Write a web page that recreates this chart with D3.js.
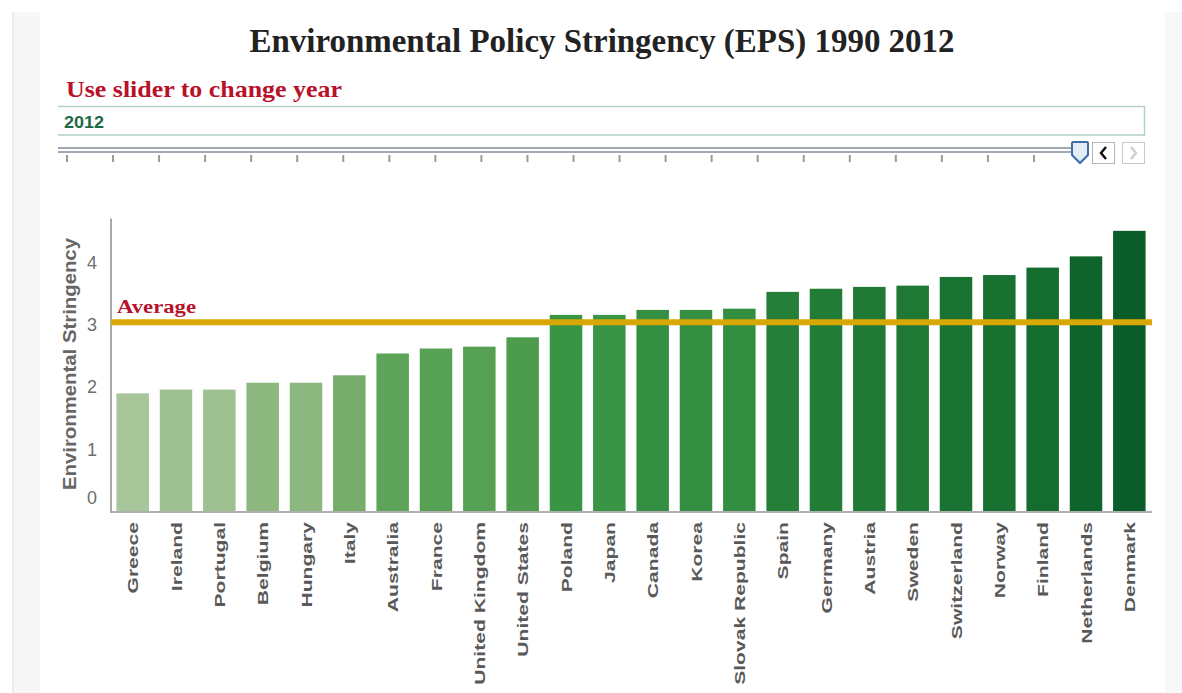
<!DOCTYPE html>
<html><head><meta charset="utf-8">
<script src="https://cdn.jsdelivr.net/npm/d3@7"></script>
<style>body{margin:0;background:#fff}svg{display:block}</style>
</head><body><svg id="c" width="1182" height="693"></svg>
<script>
const countries = ["Greece","Ireland","Portugal","Belgium","Hungary","Italy","Australia","France","United Kingdom","United States","Poland","Japan","Canada","Korea","Slovak Republic","Spain","Germany","Austria","Sweden","Switzerland","Norway","Finland","Netherlands","Denmark"];
const values = [1.89,1.95,1.95,2.06,2.06,2.18,2.53,2.61,2.64,2.79,3.15,3.15,3.23,3.23,3.25,3.52,3.57,3.60,3.62,3.76,3.79,3.91,4.09,4.50];
const yTicks = [0,1,2,3,4];
const averageValue = 3.03;
const sliderYears = [1990,1991,1992,1993,1994,1995,1996,1997,1998,1999,2000,2001,2002,2003,2004,2005,2006,2007,2008,2009,2010,2011,2012];
const selectedYear = 2012;
const titleText = "Environmental Policy Stringency (EPS) 1990 2012";
const sliderPrompt = "Use slider to change year";
const yAxisTitle = "Environmental Stringency";
const averageLabel = "Average";

const svg = d3.select("#c");

// page side strips
svg.append("rect").attr("x",14).attr("y",12).attr("width",26).attr("height",681).attr("fill","#f7f7f7");
svg.append("rect").attr("x",12).attr("y",12).attr("width",2).attr("height",681).attr("fill","#ebebeb");
svg.append("rect").attr("x",1165).attr("y",12).attr("width",17).attr("height",681).attr("fill","#f8f8f8");

// title
svg.append("text").attr("x",602).attr("y",52).attr("text-anchor","middle")
  .attr("font-family","Liberation Serif, Times New Roman, serif").attr("font-weight","bold")
  .attr("font-size",33).attr("fill","#222")
  .attr("textLength",705).attr("lengthAdjust","spacingAndGlyphs").text(titleText);

// slider prompt
svg.append("text").attr("x",66).attr("y",97)
  .attr("font-family","Liberation Serif, Times New Roman, serif").attr("font-weight","bold")
  .attr("font-size",23).attr("fill","#b8112a")
  .attr("textLength",276).attr("lengthAdjust","spacingAndGlyphs").text(sliderPrompt);

// year box
const box = svg.append("g");
box.append("line").attr("x1",58).attr("x2",1145).attr("y1",106.5).attr("y2",106.5).attr("stroke","#b3d1c1").attr("stroke-width",1.5);
box.append("line").attr("x1",58).attr("x2",1145).attr("y1",135).attr("y2",135).attr("stroke","#b3d1c1").attr("stroke-width",1.5);
box.append("line").attr("x1",1144.5).attr("x2",1144.5).attr("y1",106).attr("y2",135.5).attr("stroke","#b3d1c1").attr("stroke-width",1.5);
box.append("text").attr("x",64).attr("y",128).attr("font-family","Liberation Sans, Arial, sans-serif")
  .attr("font-weight","bold").attr("font-size",16).attr("fill","#1d6a45")
  .attr("textLength",40).attr("lengthAdjust","spacingAndGlyphs").text(String(selectedYear));

// slider
const sx = d3.scaleLinear().domain([sliderYears[0], sliderYears[sliderYears.length-1]]).range([67,1080]);
const sl = svg.append("g");
sl.append("line").attr("x1",58).attr("x2",sx(selectedYear)).attr("y1",148).attr("y2",148).attr("stroke","#a3a8b5").attr("stroke-width",2);
sl.append("line").attr("x1",58).attr("x2",sx(selectedYear)).attr("y1",152).attr("y2",152).attr("stroke","#a3a8b5").attr("stroke-width",2);
sl.selectAll("line.tk").data(sliderYears.filter(d=>d!==selectedYear)).join("line").attr("class","tk")
  .attr("x1",d=>sx(d)).attr("x2",d=>sx(d)).attr("y1",155).attr("y2",162).attr("stroke","#9a9a9a").attr("stroke-width",2);
const hx = sx(selectedYear);
sl.append("path").attr("d",`M${hx-7},142 h14 q1,0 1,1 v12 l-8,8 l-8,-8 v-12 q0,-1 1,-1 z`)
  .attr("fill","#e4edf7").attr("stroke","#3c6ea8").attr("stroke-width",2);
// buttons
sl.append("rect").attr("x",1092.5).attr("y",142.5).attr("width",22).attr("height",21).attr("fill","#fff").attr("stroke","#b5b5b5");
sl.append("path").attr("d","M1106,147 l-5,6 l5,6").attr("fill","none").attr("stroke","#111").attr("stroke-width",2.5);
sl.append("rect").attr("x",1122.5).attr("y",142.5).attr("width",22).attr("height",21).attr("fill","#fff").attr("stroke","#c8c8c8");
sl.append("path").attr("d","M1131,147 l5,6 l-5,6").attr("fill","none").attr("stroke","#cfcfcf").attr("stroke-width",2.5);

// chart scales
const x = d3.scaleBand().domain(countries).range([111,1151]).paddingInner(0.25).paddingOuter(0.125);
const y = d3.scaleLinear().domain([0,4.7]).range([511,218.4]);
const color = d3.scaleLinear()
  .domain([1.89,2.18,2.64,3.15,3.6,4.09,4.5])
  .range(["#a9c69b","#77ad6b","#55a052","#3a9446","#207a35","#0e642b","#0a5d29"]);

// bars
svg.append("g").selectAll("rect").data(countries).join("rect")
  .attr("x",d=>x(d)).attr("width",x.bandwidth())
  .attr("y",(d,i)=>y(values[i])).attr("height",(d,i)=>y(0)-y(values[i]))
  .attr("fill",(d,i)=>color(values[i]));

// axes lines
svg.append("line").attr("x1",111).attr("x2",111).attr("y1",y.range()[1]).attr("y2",512).attr("stroke","#aaa").attr("stroke-width",2);
svg.append("line").attr("x1",110).attr("x2",1152).attr("y1",512).attr("y2",512).attr("stroke","#b0b0b0").attr("stroke-width",2);

// y axis tick labels
const yAxis = svg.append("g").attr("transform","translate(111,0)")
  .call(d3.axisLeft(y).tickValues(yTicks).tickSize(0).tickPadding(14).tickFormat(d3.format("d")));
yAxis.select(".domain").remove();
yAxis.selectAll("text").attr("font-family","Liberation Sans, Arial, sans-serif").attr("font-size",18).attr("fill","#6e6e6e")
  .attr("dy",d=>d===0?"-0.4em":"0.35em");

// y axis title
svg.append("text").attr("transform","translate(76,364) rotate(-90)").attr("text-anchor","middle")
  .attr("font-family","Liberation Sans, Arial, sans-serif").attr("font-weight","bold").attr("font-size",18)
  .attr("fill","#666").attr("textLength",252).attr("lengthAdjust","spacingAndGlyphs").text(yAxisTitle);

// average line
svg.append("line").attr("x1",111).attr("x2",1152).attr("y1",y(averageValue)).attr("y2",y(averageValue))
  .attr("stroke","#d9a800").attr("stroke-width",6);
svg.append("text").attr("x",117).attr("y",y(averageValue)-9)
  .attr("font-family","Liberation Serif, Times New Roman, serif").attr("font-weight","bold").attr("font-size",19)
  .attr("fill","#b8112a").attr("textLength",79).attr("lengthAdjust","spacingAndGlyphs").text(averageLabel);

// x labels
svg.append("g").selectAll("text").data(countries).join("text")
  .attr("transform",d=>`translate(${x(d)+x.bandwidth()/2},522) rotate(-90) scale(1.36,1)`)
  .attr("text-anchor","end").attr("dy","0.36em")
  .attr("font-family","Liberation Sans, Arial, sans-serif").attr("font-weight","bold").attr("font-size",15.5)
  .attr("fill","#595959").text(d=>d);
</script>
</body></html>
